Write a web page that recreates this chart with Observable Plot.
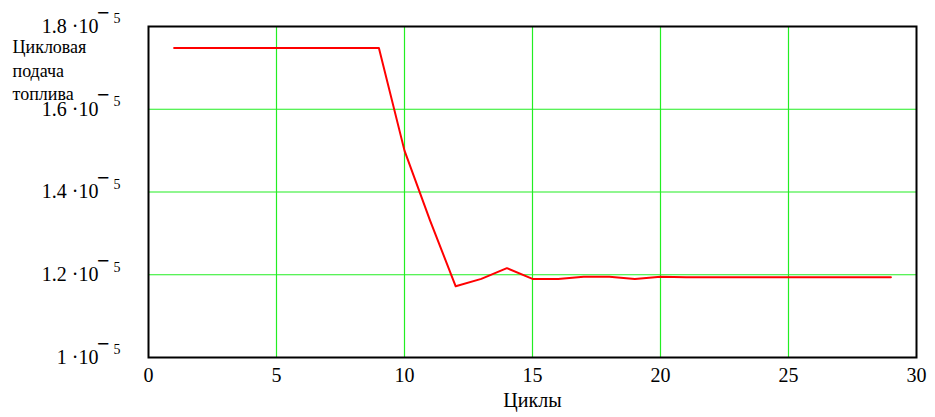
<!DOCTYPE html>
<html>
<head>
<meta charset="utf-8">
<script src="https://cdn.jsdelivr.net/npm/d3@7"></script>
<script src="https://cdn.jsdelivr.net/npm/@observablehq/plot@0.6"></script>
<style>
  html, body { margin: 0; padding: 0; background: #fff; }
</style>
</head>
<body>
<div id="chart"></div>
<script>
const cycles = [1,2,3,4,5,6,7,8,9,10,11,12,13,14,15,16,17,18,19,20,21,22,23,24,25,26,27,28,29];
const fuel = [1.748,1.748,1.748,1.748,1.748,1.748,1.748,1.748,1.748,1.500,1.331,1.172,1.190,1.216,1.190,1.190,1.195,1.195,1.190,1.195,1.194,1.194,1.194,1.194,1.194,1.194,1.194,1.194,1.194].map(v => v * 1e-5);
const xTicks = [0,5,10,15,20,25,30];
const yTicks = [1.0,1.2,1.4,1.6,1.8].map(v => v * 1e-5);
const yLabel = "Цикловая\nподача\nтоплива";
const xLabel = "Циклы";

const data = cycles.map((c, i) => ({c, v: fuel[i]}));
const fmt = d => `${+(d * 1e5).toFixed(1)} ·10`;
const serif = "Liberation Serif";

const chart = Plot.plot({
  width: 935,
  height: 417,
  marginLeft: 148,
  marginRight: 19,
  marginTop: 26,
  marginBottom: 60,
  style: {fontFamily: "Liberation Serif", background: "#fff"},
  x: {domain: [0, 30]},
  y: {domain: [1e-5, 1.8e-5]},
  marks: [
    Plot.gridX(xTicks.slice(1, -1), {stroke: "#22ee22", strokeOpacity: 1, strokeWidth: 1.2}),
    Plot.gridY(yTicks.slice(1, -1), {stroke: "#22ee22", strokeOpacity: 1, strokeWidth: 1.2}),
    Plot.line(data, {x: "c", y: "v", stroke: "#ff0000", strokeWidth: 2}),
    Plot.frame({stroke: "#000", strokeWidth: 2}),
    Plot.axisX(xTicks, {tickSize: 0, tickPadding: 10, fontSize: 20, fontFamily: serif, fill: "#000", label: null}),
    Plot.axisY(yTicks, {tickSize: 0, tickPadding: 50, tickFormat: fmt, fontSize: 20, fontFamily: serif, fill: "#000", label: null}),
    Plot.axisY(yTicks, {tickSize: 0, tickPadding: 39, tickFormat: () => "−", fontSize: 22, fontWeight: "bold", fontFamily: serif, dy: -14, fill: "#000", label: null}),
    Plot.axisY(yTicks, {tickSize: 0, tickPadding: 28, tickFormat: () => "5", fontSize: 14, fontFamily: serif, dy: -7.5, fill: "#000", label: null}),
    Plot.text([yLabel], {frameAnchor: "top-left", text: d => d, dx: -136, dy: 10, textAnchor: "start", lineAnchor: "top", lineHeight: 1.3, fontSize: 18, fontFamily: serif, fill: "#000"}),
    Plot.text([xLabel], {frameAnchor: "bottom", text: d => d, dy: 43.5, lineAnchor: "middle", fontSize: 20, fontFamily: serif, fill: "#000"})
  ]
});
document.getElementById("chart").appendChild(chart);
</script>
</body>
</html>
